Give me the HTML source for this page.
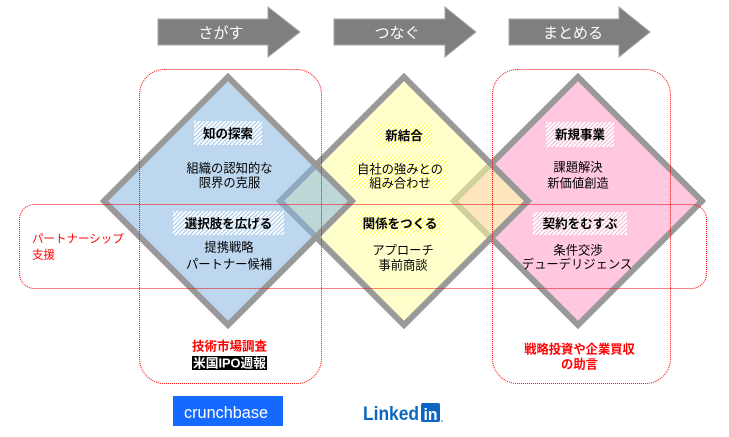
<!DOCTYPE html>
<html><head><meta charset="utf-8">
<style>
html,body{margin:0;padding:0;background:#fff;}
svg{display:block;}
text{font-family:"Liberation Sans","Noto Sans CJK JP",sans-serif;}
</style></head>
<body>
<svg width="729" height="437" viewBox="0 0 729 437" xmlns="http://www.w3.org/2000/svg">
<defs>
<pattern id="hb" width="3" height="3" patternUnits="userSpaceOnUse" patternTransform="rotate(45)">
<rect width="3" height="3" fill="#ffffff"/><rect x="0" y="0" width="1" height="3" fill="#9dc3e6"/>
</pattern>
<pattern id="hy" width="3" height="3" patternUnits="userSpaceOnUse" patternTransform="rotate(45)">
<rect width="3" height="3" fill="#ffffff"/><rect x="0" y="0" width="1" height="3" fill="#ffff33"/>
</pattern>
<pattern id="hp" width="3" height="3" patternUnits="userSpaceOnUse" patternTransform="rotate(45)">
<rect width="3" height="3" fill="#ffffff"/><rect x="0" y="0" width="1" height="3" fill="#f5b3d0"/>
</pattern>
</defs>

<!-- arrows -->
<g fill="#7f7f7f" stroke="#a6a6a6" stroke-width="1">
<polygon points="158,19 268,19 268,7 300,32 268,57 268,45 158,45"/>
<polygon points="334,19 445,19 445,7 476,32 445,57 445,45 334,45"/>
<polygon points="509,19 619,19 619,7 650,32 619,57 619,45 509,45"/>
</g>
<g fill="#ffffff" font-size="15" text-anchor="middle">
<text x="221" y="38">さがす</text>
<text x="397" y="38">つなぐ</text>
<text x="573" y="38">まとめる</text>
</g>

<!-- diamonds -->
<polygon points="578,77 702,201 578,325 454,201" fill="#ffc8e0" stroke="#999999" stroke-width="6"/>
<polygon points="404,77 528,201 404,325 280,201" fill="rgba(255,255,162,0.55)" stroke="#999999" stroke-width="6"/>
<polygon points="228,77 352,201 228,325 104,201" fill="rgba(135,182,224,0.55)" stroke="#999999" stroke-width="6"/>

<!-- dotted rounded rects -->
<g fill="none" stroke="#ff0000" stroke-width="1" stroke-dasharray="1 1">
<rect x="139.5" y="69.5" width="182" height="314" rx="25" ry="25"/>
<rect x="492.5" y="69.5" width="178" height="314" rx="25" ry="25"/>
<rect x="19.5" y="204.5" width="687" height="84" rx="15" ry="15"/>
</g>

<!-- hatched label boxes -->
<rect x="194" y="121" width="68" height="24" fill="url(#hb)"/>
<rect x="173" y="211" width="111" height="24" fill="url(#hb)"/>
<rect x="375" y="123" width="57" height="24" fill="url(#hy)"/>
<rect x="351" y="155" width="96" height="34" fill="url(#hy)"/>
<rect x="357" y="212" width="86" height="23" fill="url(#hy)"/>
<rect x="546" y="122" width="68" height="25" fill="url(#hp)"/>
<rect x="533" y="212" width="94" height="23" fill="url(#hp)"/>

<!-- titles -->
<g font-size="12.5" font-weight="bold" fill="#000" text-anchor="middle">
<text x="228" y="138">知の探索</text>
<text x="228.5" y="228">選択肢を広げる</text>
<text x="404" y="140">新結合</text>
<text x="400" y="228">関係をつくる</text>
<text x="580" y="139">新規事業</text>
<text x="580" y="228">契約をむすぶ</text>
</g>
<g font-size="12.3" fill="#000" text-anchor="middle">
<text x="229.5" y="172.5">組織の認知的な</text>
<text x="229.5" y="187">限界の克服</text>
<text x="229" y="251.5">提携戦略</text>
<text x="229" y="268.5">パートナー候補</text>
<text x="400" y="173.5">自社の強みとの</text>
<text x="400" y="187.5">組み合わせ</text>
<text x="403" y="254.5">アプローチ</text>
<text x="403" y="269.5">事前商談</text>
<text x="578" y="171.5">課題解決</text>
<text x="578" y="187.5">新価値創造</text>
<text x="578" y="254.5">条件交渉</text>
<text x="577" y="268.5">デューデリジェンス</text>
</g>

<!-- red labels -->
<g fill="#ff0000" font-size="11.5">
<text x="32" y="242.5">パートナーシップ</text>
<text x="32" y="258.5">支援</text>
</g>
<text x="229.5" y="350.5" fill="#ff0000" font-size="12.5" font-weight="bold" text-anchor="middle">技術市場調査</text>
<rect x="192" y="356" width="75" height="14" fill="#000"/>
<text x="229.5" y="367.5" fill="#fff" font-size="12.5" font-weight="bold" text-anchor="middle" textLength="73" lengthAdjust="spacingAndGlyphs">米国IPO週報</text>
<g fill="#ff0000" font-size="12.3" font-weight="bold" text-anchor="middle">
<text x="579.5" y="353.5">戦略投資や企業買収</text>
<text x="579.5" y="368.5">の助言</text>
</g>

<!-- logos -->
<rect x="173" y="396" width="110" height="30" fill="#146aff"/>
<text x="184" y="418" fill="#ffffff" font-size="17" textLength="84" lengthAdjust="spacingAndGlyphs">crunchbase</text>
<text x="363" y="420" fill="#0a66c2" font-size="19" font-weight="bold" textLength="56" lengthAdjust="spacingAndGlyphs">Linked</text>
<rect x="421" y="403" width="19" height="19" rx="2" fill="#0a66c2"/>
<text x="423.5" y="420" fill="#ffffff" font-size="17" font-weight="bold" textLength="14" lengthAdjust="spacingAndGlyphs">in</text>
<circle cx="442" cy="421" r="0.8" fill="#0a66c2"/>
</svg>
</body></html>
